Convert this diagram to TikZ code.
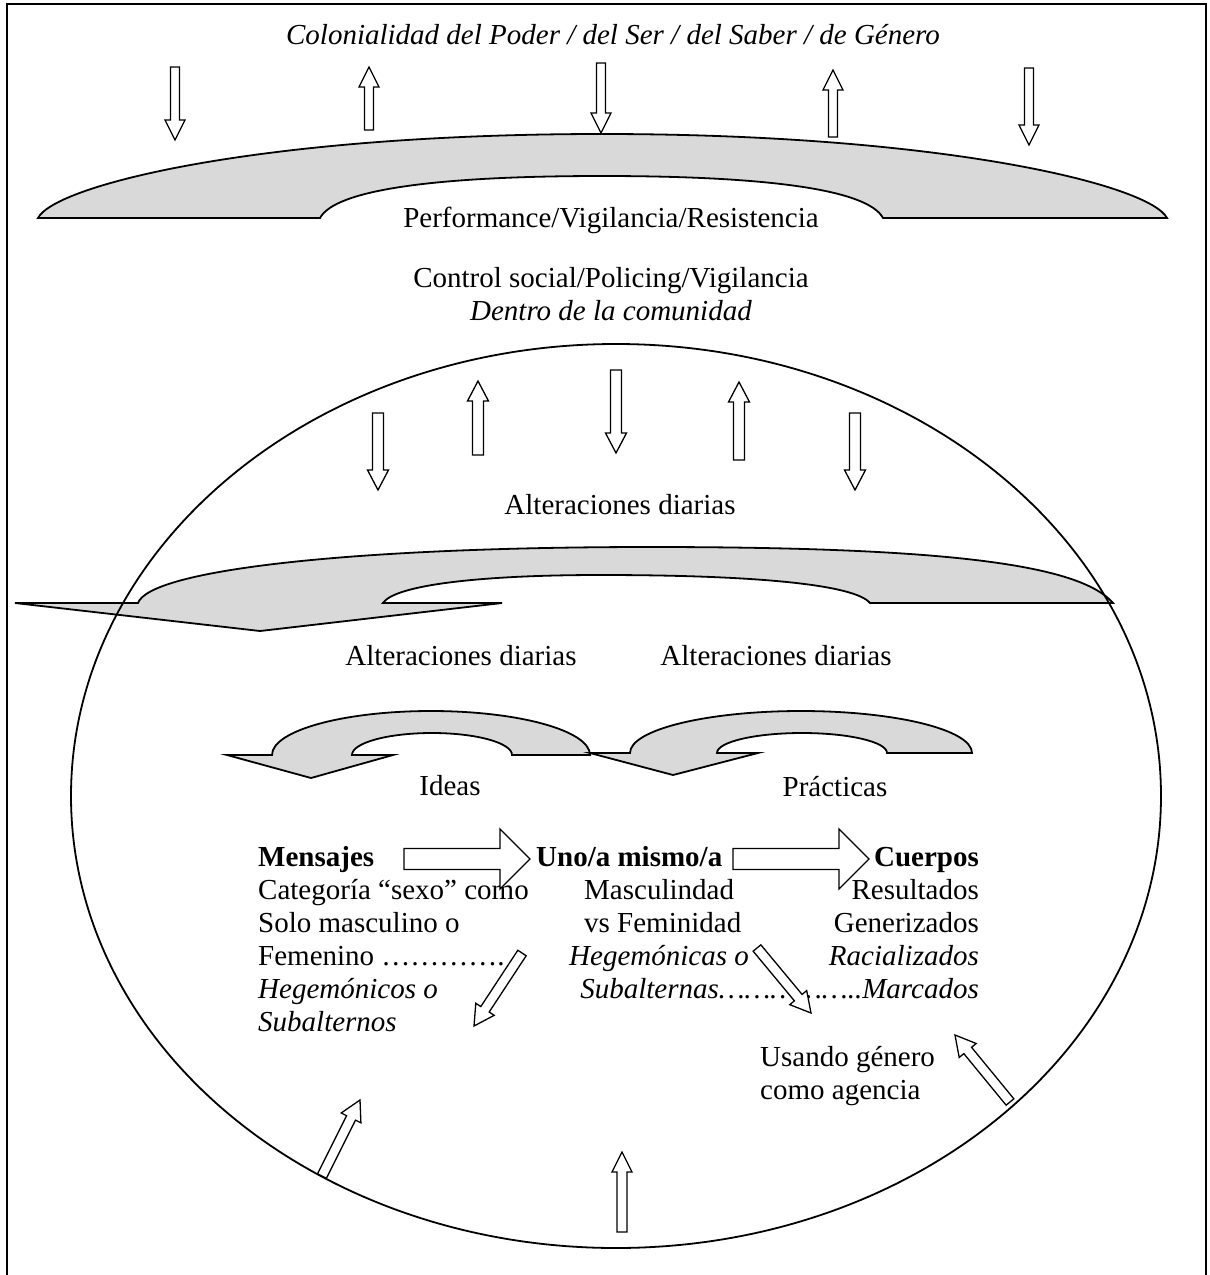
\documentclass[tikz,border=0pt]{standalone}
\usepackage{fontspec}
\setmainfont{Liberation Serif}
\usetikzlibrary{calc}

% hollow block arrow: tail, tip, half shaft, half head, head length
\newcommand{\hollowarrow}[5]{%
  \coordinate (hb) at ($(#2)!#5!(#1)$);
  \draw[hollow] ($(#1)!#3!90:(#2)$) -- ($(hb)!#3!90:(#2)$) -- ($(hb)!#4!90:(#2)$) -- (#2)
    -- ($(hb)!#4!-90:(#2)$) -- ($(hb)!#3!-90:(#2)$) -- ($(#1)!#3!-90:(#2)$) -- cycle;
}

\begin{document}
\begin{tikzpicture}[x=1pt, y=-1pt,
    font=\fontsize{29}{33}\selectfont,
    hollow/.style={draw, fill=white, line width=1.3pt, line join=miter},
    band/.style={draw, fill=gray!30, line width=1.8pt},
    lbl/.style={inner sep=0pt}]
        % --- 1. Frame ---
        \useasboundingbox (0,0) rectangle (1210,1275);
        \draw[line width=2pt] (7,1290) -- (7,4) -- (1206,4) -- (1206,1290);

        % --- 2. Colonialidad level ---
        \node[lbl, anchor=base] (colon) at (613,44)
            {\textit{Colonialidad del Poder / del Ser / del Saber / de Género}};
        \foreach \x/\ya/\yb in {175/67/140, 369/130/67, 601/63/133, 833/137/70, 1029/68/145}
            {\hollowarrow{\x,\ya}{\x,\yb}{4.5pt}{10pt}{20pt}}

        % grey arch
        \draw[band] (38,218) .. controls (55,185) and (260,134) .. (602,134)
            .. controls (944,134) and (1150,185) .. (1167,218) -- (883,218)
            .. controls (868,190) and (770,176) .. (602,176)
            .. controls (434,176) and (335,190) .. (320,218) -- cycle;
        \node[lbl, anchor=base] (perf) at (611,227) {Performance/Vigilancia/Resistencia};

        % --- 3. Community ---
        \node[lbl, anchor=base] (control) at (611,287) {Control social/Policing/Vigilancia};
        \node[lbl, anchor=base] (dentro) at (611,320) {\textit{Dentro de la comunidad}};

        \foreach \x/\ya/\yb in {378/413/490, 478/455/381, 616/370/453, 739/460/382, 855/413/490}
            {\hollowarrow{\x,\ya}{\x,\yb}{5.5pt}{10.5pt}{20pt}}
        \node[lbl, anchor=base] (alt1) at (620,514) {Alteraciones diarias};

        % big turning arrow
        \draw[band] (15,603) -- (138,603) .. controls (150,570) and (350,547) .. (650,547)
            .. controls (950,547) and (1080,565) .. (1113,603) -- (870,603)
            .. controls (855,585) and (760,575) .. (600,575)
            .. controls (480,575) and (395,585) .. (383,603) -- (502,603) -- (260,631) -- cycle;

        % the community circle
        \draw[line width=1.8pt] (616,796) ellipse (545 and 452);

        \node[lbl, anchor=base] (alt2) at (461,665) {Alteraciones diarias};
        \node[lbl, anchor=base] (alt3) at (776,665) {Alteraciones diarias};

        % --- 4. Ideas / Practicas ---
        \draw[band] (227,755) -- (272,755) arc[start angle=180, end angle=360, x radius=159, y radius=44]
            -- (512,755) arc[start angle=0, end angle=-180, x radius=80, y radius=22]
            -- (393,755) -- (311,778) -- cycle;
        \draw[band] (590,753) -- (630,753) arc[start angle=180, end angle=360, x radius=171, y radius=42]
            -- (887,753) arc[start angle=0, end angle=-180, x radius=85, y radius=20]
            -- (758,753) -- (673,775) -- cycle;
        \node[lbl, anchor=base] (ideas) at (450,795) {Ideas};
        \node[lbl, anchor=base] (pract) at (835,796) {Prácticas};

        % --- 5. Mensajes -> Uno/a mismo/a -> Cuerpos ---
        \def\rowA{866}
        \def\rowH{33}
        \node[lbl, anchor=base west] (mens) at (258,\rowA) {\textbf{Mensajes}};
        \node[lbl, anchor=base west] (mens2) at (258,\rowA+\rowH) {Categoría “sexo” como};
        \node[lbl, anchor=base west] (mens3) at (258,\rowA+2*\rowH) {Solo masculino o};
        \node[lbl, anchor=base west] (mens4) at (258,\rowA+3*\rowH) {Femenino ………….};
        \node[lbl, anchor=base west] (mens5) at (258,\rowA+4*\rowH) {\textit{Hegemónicos o}};
        \node[lbl, anchor=base west] (mens6) at (258,\rowA+5*\rowH) {\textit{Subalternos}};

        \node[lbl, anchor=base west] (self) at (536,\rowA) {\textbf{Uno/a mismo/a}};
        \node[lbl, anchor=base west] (self2) at (584,\rowA+\rowH) {Masculindad};
        \node[lbl, anchor=base west] (self3) at (584,\rowA+2*\rowH) {vs Feminidad};
        \node[lbl, anchor=base west] (self4) at (569,\rowA+3*\rowH) {\textit{Hegemónicas o}};
        \node[lbl, anchor=base east] (self5) at (979,\rowA+4*\rowH) {\textit{Subalternas……………..Marcados}};

        \node[lbl, anchor=base east] (body) at (979,\rowA) {\textbf{Cuerpos}};
        \node[lbl, anchor=base east] (body2) at (979,\rowA+\rowH) {Resultados};
        \node[lbl, anchor=base east] (body3) at (979,\rowA+2*\rowH) {Generizados};
        \node[lbl, anchor=base east] (body4) at (979,\rowA+3*\rowH) {\textit{Racializados}};

        \coordinate (m1) at (404,859);
        \coordinate (m2) at (530,859);
        \coordinate (s1) at (733,859);
        \coordinate (s2) at (869,859);
        \hollowarrow{m1}{m2}{10.5pt}{30pt}{30pt}
        \hollowarrow{s1}{s2}{10.5pt}{30pt}{30pt}

        % --- 6. Agency ---
        \node[lbl, anchor=base west] (agen) at (760,1066) {Usando género};
        \node[lbl, anchor=base west] (agen2) at (760,1099) {como agencia};

        \hollowarrow{522,953}{474,1026}{5pt}{11pt}{20pt}
        \hollowarrow{757,948}{811,1013}{5pt}{11pt}{20pt}
        \hollowarrow{1010,1102}{955,1035}{5pt}{11pt}{20pt}
        \hollowarrow{322,1176}{360,1100}{5pt}{11pt}{20pt}
        \hollowarrow{622,1232}{622,1152}{5pt}{10pt}{20pt}
\end{tikzpicture}
\end{document}
